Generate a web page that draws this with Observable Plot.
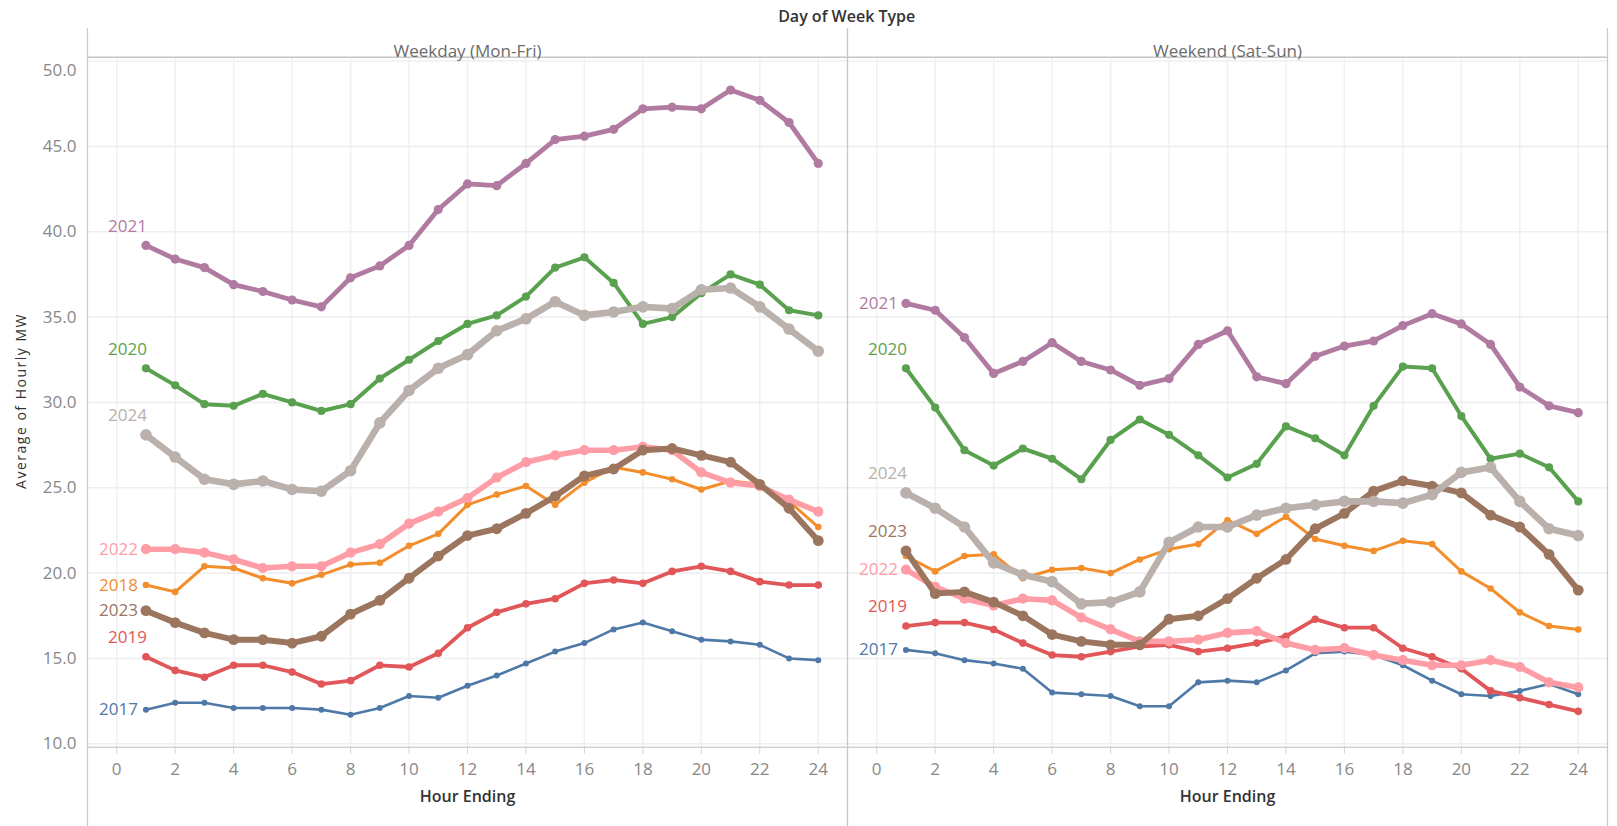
<!DOCTYPE html>
<html>
<head>
<meta charset="utf-8">
<script src="https://cdn.jsdelivr.net/npm/d3@7"></script>
<script src="https://cdn.jsdelivr.net/npm/@observablehq/plot@0.6"></script>
<style>
  html, body { margin: 0; padding: 0; background: #fff; overflow: hidden; }
  #chart svg { display: block; }
</style>
</head>
<body>
<div id="chart"></div>
<script>
// ---------- data ----------
const hours = [1,2,3,4,5,6,7,8,9,10,11,12,13,14,15,16,17,18,19,20,21,22,23,24];
const years = ["2017","2018","2019","2020","2021","2022","2023","2024"];
const dayTypes = ["Weekday (Mon-Fri)", "Weekend (Sat-Sun)"];
const xTicks = [0,2,4,6,8,10,12,14,16,18,20,22,24];
const yTicks = [10,15,20,25,30,35,40,45];
const yTopTick = [50];

// Weekday (Mon-Fri) – average of hourly MW
const weekday2017 = [12.0,12.4,12.4,12.1,12.1,12.1,12.0,11.7,12.1,12.8,12.7,13.4,14.0,14.7,15.4,15.9,16.7,17.1,16.6,16.1,16.0,15.8,15.0,14.9];
const weekday2018 = [19.3,18.9,20.4,20.3,19.7,19.4,19.9,20.5,20.6,21.6,22.3,24.0,24.6,25.1,24.0,25.3,26.2,25.9,25.5,24.9,25.4,25.2,24.2,22.7];
const weekday2019 = [15.1,14.3,13.9,14.6,14.6,14.2,13.5,13.7,14.6,14.5,15.3,16.8,17.7,18.2,18.5,19.4,19.6,19.4,20.1,20.4,20.1,19.5,19.3,19.3];
const weekday2020 = [32.0,31.0,29.9,29.8,30.5,30.0,29.5,29.9,31.4,32.5,33.6,34.6,35.1,36.2,37.9,38.5,37.0,34.6,35.0,36.4,37.5,36.9,35.4,35.1];
const weekday2021 = [39.2,38.4,37.9,36.9,36.5,36.0,35.6,37.3,38.0,39.2,41.3,42.8,42.7,44.0,45.4,45.6,46.0,47.2,47.3,47.2,48.3,47.7,46.4,44.0];
const weekday2022 = [21.4,21.4,21.2,20.8,20.3,20.4,20.4,21.2,21.7,22.9,23.6,24.4,25.6,26.5,26.9,27.2,27.2,27.4,27.2,25.9,25.3,25.1,24.3,23.6];
const weekday2023 = [17.8,17.1,16.5,16.1,16.1,15.9,16.3,17.6,18.4,19.7,21.0,22.2,22.6,23.5,24.5,25.7,26.1,27.2,27.3,26.9,26.5,25.2,23.8,21.9];
const weekday2024 = [28.1,26.8,25.5,25.2,25.4,24.9,24.8,26.0,28.8,30.7,32.0,32.8,34.2,34.9,35.9,35.1,35.3,35.6,35.5,36.6,36.7,35.6,34.3,33.0];

// Weekend (Sat-Sun) – average of hourly MW
const weekend2017 = [15.5,15.3,14.9,14.7,14.4,13.0,12.9,12.8,12.2,12.2,13.6,13.7,13.6,14.3,15.3,15.4,15.2,14.6,13.7,12.9,12.8,13.1,13.5,12.9];
const weekend2018 = [21.0,20.1,21.0,21.1,19.7,20.2,20.3,20.0,20.8,21.4,21.7,23.1,22.3,23.3,22.0,21.6,21.3,21.9,21.7,20.1,19.1,17.7,16.9,16.7];
const weekend2019 = [16.9,17.1,17.1,16.7,15.9,15.2,15.1,15.4,15.7,15.8,15.4,15.6,15.9,16.3,17.3,16.8,16.8,15.6,15.1,14.4,13.1,12.7,12.3,11.9];
const weekend2020 = [32.0,29.7,27.2,26.3,27.3,26.7,25.5,27.8,29.0,28.1,26.9,25.6,26.4,28.6,27.9,26.9,29.8,32.1,32.0,29.2,26.7,27.0,26.2,24.2];
const weekend2021 = [35.8,35.4,33.8,31.7,32.4,33.5,32.4,31.9,31.0,31.4,33.4,34.2,31.5,31.1,32.7,33.3,33.6,34.5,35.2,34.6,33.4,30.9,29.8,29.4];
const weekend2022 = [20.2,19.2,18.5,18.1,18.5,18.4,17.4,16.7,16.0,16.0,16.1,16.5,16.6,15.9,15.5,15.6,15.2,14.9,14.6,14.6,14.9,14.5,13.6,13.3];
const weekend2023 = [21.3,18.8,18.9,18.3,17.5,16.4,16.0,15.8,15.8,17.3,17.5,18.5,19.7,20.8,22.6,23.5,24.8,25.4,25.1,24.7,23.4,22.7,21.1,19.0];
const weekend2024 = [24.7,23.8,22.7,20.6,19.9,19.5,18.2,18.3,18.9,21.8,22.7,22.7,23.4,23.8,24.0,24.2,24.2,24.1,24.6,25.9,26.2,24.2,22.6,22.2];

// ---------- styles (not data) ----------
const palette = ["#4e79a7","#f28e2b","#e15759","#59a14f","#b07aa1","#ff9da7","#9c755f","#bab0ac"];
const lineWidth = {"2017":2.6,"2018":3.0,"2019":3.8,"2020":4.0,"2021":4.8,"2022":5.6,"2023":6.0,"2024":6.6};
const dotRadius = {"2017":3.0,"2018":3.3,"2019":3.8,"2020":4.1,"2021":4.6,"2022":5.1,"2023":5.4,"2024":5.8};
// where the year label sits next to the first point of each line
const labelPlacement = {
  "Weekday (Mon-Fri)": {"2017":"left","2018":"left","2019":"above","2020":"above","2021":"above","2022":"left","2023":"left","2024":"above"},
  "Weekend (Sat-Sun)": {"2017":"left","2019":"above","2020":"above","2021":"left","2022":"left","2023":"above","2024":"above"}
};
const FONT = "'Open Sans', 'Noto Sans', sans-serif";

// ---------- build table ----------
const series = {
  "Weekday (Mon-Fri)": {"2017":weekday2017,"2018":weekday2018,"2019":weekday2019,"2020":weekday2020,"2021":weekday2021,"2022":weekday2022,"2023":weekday2023,"2024":weekday2024},
  "Weekend (Sat-Sun)": {"2017":weekend2017,"2018":weekend2018,"2019":weekend2019,"2020":weekend2020,"2021":weekend2021,"2022":weekend2022,"2023":weekend2023,"2024":weekend2024}
};
const rows = [];
for (const type of dayTypes) {
  for (const year of years) {
    series[type][year].forEach((v, i) => rows.push({type, year, hour: hours[i], value: v}));
  }
}
const firstPoints = rows.filter(d => d.hour === hours[0]);
const labelsLeft = firstPoints.filter(d => labelPlacement[d.type][d.year] === "left");
const labelsAbove = firstPoints.filter(d => labelPlacement[d.type][d.year] === "above");

const yDomain = [9.8, 50.15];

const seriesMarks = [];
for (const year of years) {
  const data = rows.filter(d => d.year === year);
  seriesMarks.push(
    Plot.line(data, {x: "hour", y: "value", fx: "type", z: "type", stroke: "year",
      strokeWidth: lineWidth[year], strokeLinejoin: "round", strokeLinecap: "round"}),
    Plot.dot(data, {x: "hour", y: "value", fx: "type", fill: "year", r: dotRadius[year], stroke: null})
  );
}

const chart = Plot.plot({
  width: 1617,
  height: 826,
  marginLeft: 86,
  marginRight: 10,
  marginTop: 58,
  marginBottom: 79.3,
  style: {fontFamily: FONT, fontSize: "17px", color: "#888", background: "#fff"},
  fx: {domain: dayTypes, padding: 0, axis: null, label: null},
  x: {domain: [-1, 25], label: null},
  y: {domain: yDomain, label: null},
  color: {domain: years, range: palette},
  marks: [
    // grid
    Plot.ruleY(yTicks.concat(yTopTick), {stroke: "#efefef", strokeWidth: 1.6}),
    Plot.ruleX(xTicks, {stroke: "#f0f0f0", strokeWidth: 1.5}),
    // x axis line and header line
    Plot.ruleY([yDomain[0]], {stroke: "#d2d2d2", strokeWidth: 1.5}),
    Plot.ruleY([yDomain[1]], {stroke: "#c6c6c6", strokeWidth: 1.5, dy: -1.3}),
    // pane borders
    Plot.ruleX([-1, 25], {stroke: "#c8c8c8", strokeWidth: 1.2, insetTop: -30, insetBottom: -80}),
    // axes
    Plot.axisX({ticks: xTicks, tickSize: 7, tickPadding: 9, stroke: "#d2d2d2", fill: "#888", fontSize: 17, label: null}),
    Plot.axisY({ticks: yTicks, tickFormat: d3.format(".1f"), tickSize: 0, tickPadding: 11, fill: "#888", fontSize: 17, label: null, facetAnchor: "left"}),
    Plot.axisY({ticks: yTopTick, tickFormat: d3.format(".1f"), tickSize: 0, tickPadding: 11, dy: 9, fill: "#888", fontSize: 17, label: null, facetAnchor: "left"}),
    // series
    ...seriesMarks,
    // year labels
    Plot.text(labelsLeft, {x: "hour", y: "value", fx: "type", text: "year", fill: "year",
      textAnchor: "end", dx: -8, fontSize: 17}),
    Plot.text(labelsAbove, {x: "hour", y: "value", fx: "type", text: "year", fill: "year",
      textAnchor: "end", dx: 1, dy: -19, fontSize: 17}),
    // facet headers
    Plot.text(dayTypes, {fx: d => d, text: d => d, frameAnchor: "top", dy: -14, fill: "#6b6b6b", fontSize: 17}),
    // x axis titles
    Plot.text(dayTypes, {fx: d => d, text: () => "Hour Ending", frameAnchor: "bottom", dy: 54.3,
      fill: "#333", fontSize: 16, fontWeight: 600})
  ]
});

const svg = d3.select(chart);
svg.append("text")
  .attr("x", 846.7).attr("y", 16)
  .attr("text-anchor", "middle").attr("dominant-baseline", "central")
  .attr("fill", "#333").attr("font-size", 16).attr("font-weight", 600)
  .attr("font-family", FONT)
  .text("Day of Week Type");
svg.append("text")
  .attr("transform", "translate(20,401) rotate(-90)")
  .attr("text-anchor", "middle").attr("dominant-baseline", "central")
  .attr("fill", "#333").attr("font-size", 14).attr("font-weight", 400)
  .attr("letter-spacing", 1.5)
  .attr("font-family", FONT)
  .text("Average of Hourly MW");

document.getElementById("chart").appendChild(chart);
</script>
</body>
</html>
